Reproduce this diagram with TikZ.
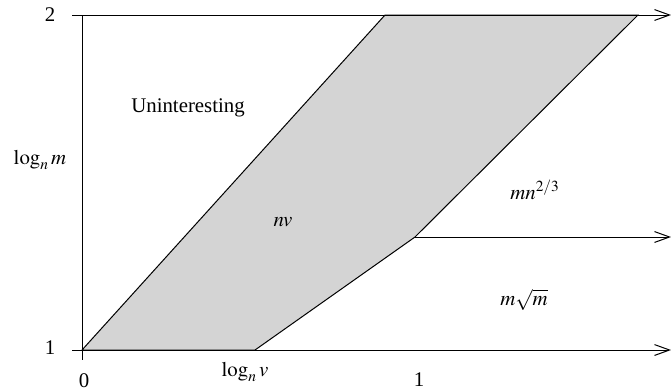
\documentclass[tikz,border=0pt]{standalone}
\usepackage{mathptmx}
\usepackage{fontspec}
\setmainfont{Liberation Serif}
\usepackage{tikz}
\usetikzlibrary{positioning, arrows.meta}

\tikzset{
  axisline/.style={line width=0.6pt, -{Straight Barb[length=9pt, width=6.5pt]}},
  lbl/.style={inner sep=0pt, font=\fontsize{12.5}{15}\selectfont},
  region/.style={fill=black!17, draw=black, line width=0.6pt, line join=miter}
}

\begin{document}
\begin{tikzpicture}[x=0.6pt, y=-0.6pt]
  \useasboundingbox (0,0) rectangle (671,391);

  % corners of the nv region
  \coordinate (origin) at (82,350);
  \coordinate (topl)   at (385,15);
  \coordinate (topr)   at (638,15);
  \coordinate (knee)   at (415,237);
  \coordinate (foot)   at (255,350);

  % shaded region
  \draw[region] (origin) -- (topl) -- (topr) -- (knee) -- (foot) -- cycle;

  % axes
  \coordinate (ytop) at (82,15);
  \coordinate (ybot) at (82,360);
  \coordinate (topstart) at (72,15);
  \coordinate (botstart) at (72,350);
  \coordinate (topend) at (671,15);
  \coordinate (botend) at (671,350);
  \coordinate (midend) at (671,237);
  \draw[line width=0.6pt] (ytop) -- (ybot);
  \draw[axisline] (topstart) -- (topend);
  \draw[axisline] (botstart) -- (botend);
  \draw[axisline] (knee) -- (midend);

  % tick labels
  \node[lbl] (ytwo)  at (50,15)  {2};
  \node[lbl] (yone)  at (50,348) {1};
  \node[lbl] (xzero) at (84,381) {0};
  \node[lbl] (xone)  at (419,380) {1};
  \node[lbl] (xlab)  at (245,372) {$\log_n v$};
  \node[lbl] (ylab)  at (40,160) {$\log_n m$};

  % region labels
  \node[lbl] (unint) at (188,108) {Uninteresting};
  \node[lbl] (nvlab) at (283,222) {$nv$};
  \node[lbl] (mnlab) at (535,190) {$mn^{2/3}$};
  \node[lbl] (msqrt) at (524,300) {$m\sqrt{m}$};
\end{tikzpicture}
\end{document}
